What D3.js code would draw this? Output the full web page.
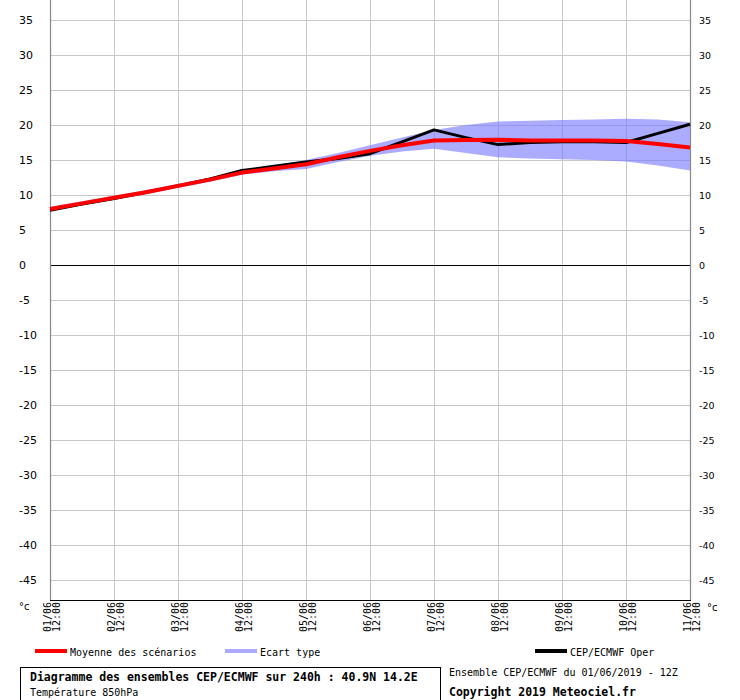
<!DOCTYPE html>
<html>
<head>
<meta charset="utf-8">
<script src="https://cdn.jsdelivr.net/npm/d3@7"></script>
<style>
html,body{margin:0;padding:0;background:#fff;}
svg{display:block;}
</style>
</head>
<body>
<svg id="chart" width="740" height="700"></svg>
<script>
// ---- data (12-hourly steps from 01/06 12:00 to 11/06 12:00) ----
const dateLabels = ["01/06","02/06","03/06","04/06","05/06","06/06","07/06","08/06","09/06","10/06","11/06"];
const hourLabel = "12:00";
const steps = d3.range(21);
const meanVals  = [8.0, 8.8, 9.6, 10.4, 11.3, 12.2, 13.2, 13.8, 14.4, 15.4, 16.3, 17.1, 17.8, 17.85, 17.9, 17.8, 17.8, 17.8, 17.7, 17.3, 16.8];
const operVals  = [7.8, 8.7, 9.5, 10.4, 11.3, 12.3, 13.5, 14.1, 14.7, 15.2, 15.9, 17.6, 19.3, 18.2, 17.2, 17.5, 17.6, 17.6, 17.5, 18.8, 20.1];
const sdUpper   = [8.3, 9.1, 9.9, 10.7, 11.6, 12.5, 13.5, 14.2, 15.0, 16.0, 17.1, 18.2, 19.3, 20.0, 20.5, 20.6, 20.7, 20.8, 20.9, 20.8, 20.4];
const sdLower   = [7.7, 8.5, 9.3, 10.1, 11.0, 11.9, 12.9, 13.4, 13.7, 14.7, 15.6, 16.2, 16.6, 16.0, 15.4, 15.2, 15.1, 15.0, 14.8, 14.2, 13.5];
const yTicks = [-45,-40,-35,-30,-25,-20,-15,-10,-5,0,5,10,15,20,25,30,35];
const legendItems = [
  {label:"Moyenne des scénarios", color:"#ff0000"},
  {label:"Ecart type", color:"#aaaaff"},
  {label:"CEP/ECMWF Oper", color:"#000000"}
];
const titleText = "Diagramme des ensembles CEP/ECMWF sur 240h : 40.9N 14.2E";
const subtitleText = "Température 850hPa";
const runText = "Ensemble CEP/ECMWF du 01/06/2019 - 12Z";
const copyText = "Copyright 2019 Meteociel.fr";

// ---- layout ----
const L = 50, R = 690, T = 0, B = 600;
const svg = d3.select("#chart");
const x = d3.scaleLinear().domain([0, 20]).range([L, R]);
const y = d3.scaleLinear().domain([(265 - 600) / 7, 265 / 7]).range([B, T]);
const mono = "'DejaVu Sans Mono', 'Liberation Mono', monospace";
const sans = "'DejaVu Sans', Verdana, sans-serif";

// gridlines
const grid = svg.append("g");
grid.selectAll("line.h").data(yTicks).join("line")
  .attr("x1", L).attr("x2", R)
  .attr("y1", d => Math.round(y(d)) + 0.5).attr("y2", d => Math.round(y(d)) + 0.5)
  .attr("stroke", "#c8c8c8").attr("stroke-width", 1);
const dayIdx = d3.range(0, 21, 2);
grid.selectAll("line.v").data(dayIdx.slice(1, -1)).join("line")
  .attr("x1", d => Math.round(x(d)) + 0.5).attr("x2", d => Math.round(x(d)) + 0.5)
  .attr("y1", T).attr("y2", B)
  .attr("stroke", "#c8c8c8").attr("stroke-width", 1);

// std-dev band
const area = d3.area()
  .x((d, i) => x(steps[i]))
  .y0((d, i) => y(sdLower[i]))
  .y1((d, i) => y(sdUpper[i]));
svg.append("path").datum(steps)
  .attr("d", area)
  .attr("fill", "rgb(120,120,255)")
  .attr("fill-opacity", 0.62);

// zero line
svg.append("line")
  .attr("x1", L).attr("x2", R)
  .attr("y1", Math.round(y(0)) + 0.5).attr("y2", Math.round(y(0)) + 0.5)
  .attr("stroke", "#000").attr("stroke-width", 1);

// axis lines
svg.append("line").attr("x1", L + 0.5).attr("x2", L + 0.5).attr("y1", T).attr("y2", B)
  .attr("stroke", "#888").attr("stroke-width", 1.2);
svg.append("line").attr("x1", R + 0.5).attr("x2", R + 0.5).attr("y1", T).attr("y2", B)
  .attr("stroke", "#888").attr("stroke-width", 1.2);
svg.append("line").attr("x1", L).attr("x2", R + 1).attr("y1", B + 0.5).attr("y2", B + 0.5)
  .attr("stroke", "#000").attr("stroke-width", 1);

// series lines
const line = vals => d3.line().x((d, i) => x(steps[i])).y((d, i) => y(vals[i]));
svg.append("path").datum(steps).attr("d", line(operVals))
  .attr("fill", "none").attr("stroke", "#000").attr("stroke-width", 3)
  .attr("stroke-linejoin", "round");
svg.append("path").datum(steps).attr("d", line(meanVals))
  .attr("fill", "none").attr("stroke", "#ff0000").attr("stroke-width", 4)
  .attr("stroke-linejoin", "round");

// y tick labels
svg.append("g").selectAll("text").data(yTicks).join("text")
  .attr("x", 19).attr("y", d => y(d) + 4)
  .attr("font-family", sans).attr("font-size", 11).attr("fill", "#000")
  .text(d => d);
svg.append("g").selectAll("text").data(yTicks).join("text")
  .attr("x", 699).attr("y", d => y(d) + 3.5)
  .attr("font-family", sans).attr("font-size", 9.5).attr("fill", "#000")
  .text(d => d);
svg.append("text").attr("x", 19).attr("y", 610).attr("font-family", sans).attr("font-size", 10).text("°c");
svg.append("text").attr("x", 707).attr("y", 611).attr("font-family", sans).attr("font-size", 10).text("°c");

// x tick labels (rotated)
const xl = svg.append("g");
dayIdx.forEach((d, k) => {
  const px = x(d);
  const g = xl.append("g").attr("transform", `translate(${px},602) rotate(-90)`);
  g.append("text").attr("x", 0).attr("y", 1).attr("text-anchor", "end")
    .attr("font-family", mono).attr("font-size", 10).text(dateLabels[k]);
  g.append("text").attr("x", 0).attr("y", 9.5).attr("text-anchor", "end")
    .attr("font-family", mono).attr("font-size", 10).text(hourLabel);
});

// legend
const legX = [35, 225, 535];
legendItems.forEach((it, i) => {
  svg.append("rect").attr("x", legX[i]).attr("y", 649).attr("width", 32).attr("height", 4).attr("fill", it.color);
  svg.append("text").attr("x", legX[i] + 35).attr("y", 656)
    .attr("font-family", mono).attr("font-size", 10).text(it.label);
});

// title box
svg.append("rect").attr("x", 20.5).attr("y", 667.5).attr("width", 420).attr("height", 40)
  .attr("fill", "none").attr("stroke", "#000").attr("stroke-width", 1);
svg.append("text").attr("x", 30).attr("y", 681).attr("font-family", mono).attr("font-weight", "bold")
  .attr("font-size", 11.5).text(titleText);
svg.append("text").attr("x", 30).attr("y", 696).attr("font-family", mono)
  .attr("font-size", 10).text(subtitleText);
svg.append("text").attr("x", 449).attr("y", 676).attr("font-family", mono)
  .attr("font-size", 10).text(runText);
svg.append("text").attr("x", 449).attr("y", 696).attr("font-family", mono).attr("font-weight", "bold")
  .attr("font-size", 11.5).text(copyText);
</script>
</body>
</html>
